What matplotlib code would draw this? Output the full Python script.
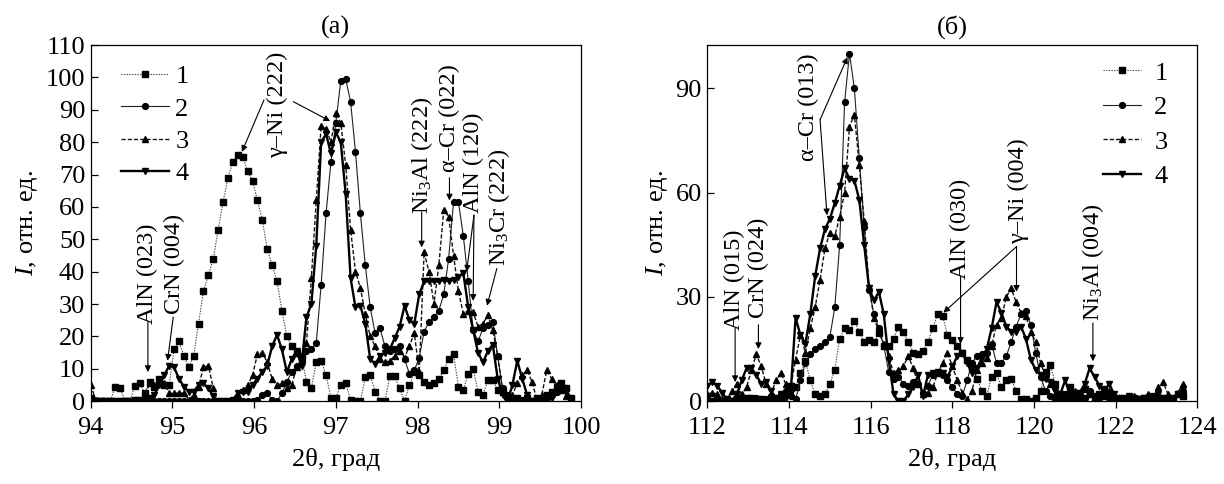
import numpy as np
import matplotlib
matplotlib.use('Agg')
import matplotlib.pyplot as plt

plt.rcParams['font.family'] = ['Liberation Serif', 'DejaVu Serif']
plt.rcParams['mathtext.fontset'] = 'custom'
plt.rcParams['mathtext.rm'] = 'Liberation Serif'
plt.rcParams['mathtext.it'] = 'Liberation Serif:italic'

# Panel (a): 2theta grid, step 0.06 deg
x_a = np.round(94.0 + 0.06 * np.arange(99), 2)

a1 = [1, 0, 0, 0, 0, 4.5, 4, 0, 0, 4.7,
      5.5, 2.5, 6, 4.5, 7, 5, 5, 16, 18.5, 14,
      10.5, 14, 24, 34, 39, 44, 53, 61.5, 69, 74,
      76, 75.5, 71, 68, 62, 56, 47, 42, 37, 28,
      20, 17, 15, 14, 6, 4, 12, 12.5, 8, 1,
      1, 5, 5.5, 0.5, 0, 0, 7.5, 8, 3, 0,
      0, 7.7, 7.7, 4, 0, 5, 9, 8, 6, 5,
      5.5, 7, 9.5, 13, 14.5, 4.5, 3.5, 8.5, 10, 3,
      2, 6.5, 6.5, 3.5, 3, 1.5, 0, 1, 0, 1,
      0, 1, 0.5, 2, 3, 4.5, 5.5, 4, 1]

a2 = [0, 0, 0, 0, 0, 0, 0, 0, 0, 0,
      0, 0, 0, 0, 0, 0, 0, 0, 0, 0,
      0, 0, 0, 0, 0, 0, 0, 0, 0, 0,
      0, 0, 0, 0, 0.5, 2, 2.5, 0.5, 0, 2.5,
      6, 9, 11, 12.5, 15.5, 16, 18, 36, 58, 74,
      86, 99, 99.5, 92.5, 77, 58, 42, 29, 21, 22.5,
      17, 15.5, 16, 17, 13, 8.5, 9.5, 13.5, 21.5, 24.5,
      26, 28, 33, 44, 61.5, 61.5, 51, 37, 22, 18.5,
      22.5, 23.5, 24.5, 14, 4, 2, 0.5, 0, 0.5, 0,
      0, 0, 0, 1, 2, 3, 4.5, 4, 1]

a3 = [5, 0.5, 0, 0, 0, 0, 0, 0, 0, 0,
      0, 1.5, 5.5, 5, 6, 5.5, 2.5, 2.5, 2.5, 2.5,
      0.5, 2, 4.5, 10.5, 11, 4, 0, 0, 0, 0,
      2, 3.5, 5, 8, 14.5, 15, 12, 7, 5, 5.5,
      4, 5, 10.5, 14, 18, 38, 62, 85, 84, 80,
      89, 86, 73, 53, 40, 35, 27, 20, 17, 13,
      12, 12.5, 14, 15.5, 13.5, 17, 21, 9, 46, 40,
      30, 42, 59, 57, 45, 34, 27, 28, 27.5, 23,
      24, 26.5, 22, 14, 3, 0.5, 2, 5.5, 8, 9.5,
      6, 0.5, 2, 9.5, 7, 5, 3.5, 1.5, 0.5]

a4 = [0.5, 0, 0, 0, 0, 0, 0, 0, 0, 0.5,
      0.5, 1, 1, 2, 5, 8, 11, 10.5, 7, 4.5,
      3, 3, 5, 5.5, 4, 1.5, 0, 0, 0, 0.5,
      2.5, 3, 3, 5, 7, 9, 11, 17, 20.5, 16,
      9, 13, 15.5, 11, 26, 30, 48, 80, 82.5, 76.5,
      83, 80, 64, 38, 29, 29.5, 24, 13, 11.5, 14,
      15, 16, 19.5, 23, 29.5, 25, 24, 33, 37, 37,
      37, 37, 37.5, 37, 37.5, 38.5, 39.5, 29, 22, 15,
      12, 15.5, 17.5, 7, 2, 0, 5, 12.5, 7, 2,
      0, 0.5, 0, 0.5, 1, 3, 5, 3, 0.5]

# Panel (b): 2theta grid, step 0.12 deg
x_b = np.round(112.0 + 0.12 * np.arange(98), 2)

b1 = [0, 0, 0, 0, 0, 0, 0.5, 1, 1, 1,
      0.5, 0.5, 0, 0, 0.5, 1, 2, 4.5, 4, 8,
      11.5, 6, 2, 1.5, 2, 5, 9, 18, 21, 20.5,
      23, 20, 17, 17.5, 17, 19.5, 16, 16, 18, 21.5,
      20, 17, 14, 13.5, 14.5, 17, 21, 25, 24.5, 19,
      17.5, 16, 14, 12, 9.5, 6.5, 3, 1.5, 7, 8,
      4, 6, 6.5, 3, 0.5, 0.5, 0, 1, 3, 8.5,
      10.5, 5, 2, 1.5, 4, 2.5, 1, 3.5, 2, 1,
      2, 3.5, 1.5, 0.5, 0, 1, 0.5, 0, 0.5, 1,
      0, 0.5, 1, 0.5, 1, 0.5, 2, 1.5]

b2 = [0, 0, 0, 0, 0, 0, 0, 0.5, 0.5, 1,
      1, 0.5, 0.5, 1.5, 1, 2, 3, 1.5, 0.5, 6,
      11, 13.5, 15, 16, 17, 18.5, 27, 45, 86, 100,
      90, 70, 50, 32, 25, 21, 16, 8.5, 6.5, 7,
      5, 4.5, 5.5, 5, 2.5, 4.5, 7.5, 8, 7.5, 6,
      4, 2, 1.5, 6, 11, 13, 13.5, 14, 16.5, 11,
      11, 13, 17, 21.5, 25, 26, 22, 14, 7, 3,
      1.5, 0.5, 1, 2, 0.5, 1, 2, 1, 3, 1.5,
      1, 2.5, 1, 0.5, 1, 0.5, 0, 1, 0.5, 0,
      1, 0.5, 0, 1, 0.5, 1, 2, 3]

b3 = [2, 2.5, 2, 0.5, 0.5, 3, 5, 2, 4, 9,
      13.5, 10, 5, 2, 6, 8, 5, 4, 12, 19,
      14, 21, 27, 35, 44, 48.5, 47.5, 53, 60, 79,
      82.5, 68, 52, 33, 24, 20, 16.5, 13, 8, 9,
      10, 13, 9.5, 5, 2, 2.5, 4, 8, 11, 14,
      10, 6, 2.5, 0.5, 3, 9, 11, 12.5, 16, 22,
      24, 30, 32.5, 28.5, 25.5, 24.5, 20, 17, 11, 7,
      5, 2, 1, 0.5, 2, 3, 1.5, 4, 3, 1,
      0.5, 1.5, 3, 1, 0.5, 0, 1, 1.5, 0.5, 1,
      2, 1, 4, 5.5, 2, 1, 2.5, 5]

b4 = [4.5, 5.5, 4.5, 2.5, 0.5, 0, 2, 6, 9.5, 9.5,
      7.5, 5, 5.5, 3, 1, 2, 1, 2.5, 24, 19,
      16.5, 25, 36, 44, 49.5, 52.5, 57, 62, 67, 64,
      63.5, 58, 45, 32.5, 29, 31.5, 25, 12, 2, 0,
      0, 2, 4, 7.5, 1.5, 7.5, 8, 8.5, 8, 7,
      10, 13, 14, 11, 8, 9.5, 12.5, 15, 21, 28.5,
      25.5, 21.5, 20, 20, 21.5, 18, 12, 9, 7.5, 6.5,
      5.5, 3, 2, 6, 2, 1, 2.5, 5, 9.5, 7,
      4.5, 3, 5, 2, 1, 0.5, 1.5, 1, 0.5, 1,
      0.5, 1.5, 2, 1, 0.5, 1, 2, 3.5]

labels = ['1', '2', '3', '4']

# line styles of the four samples; markers are black
styles = [
  dict(marker='s', ls=(0, (1.2, 1.2)), lw=0.8, color='#444444', ms=4.0),
  dict(marker='o', ls='-', lw=0.8, color='#222222', ms=4.2),
  dict(marker='^', ls=(0, (3, 1.5)), lw=1.0, color='#111111', ms=4.4),
  dict(marker='v', ls='-', lw=1.7, color='#000000', ms=4.4),
]

fs = 19
fs_ann = 17.5

fig = plt.figure(figsize=(12.24, 4.84), dpi=100)
ax_a = fig.add_axes([0.0741, 0.171, 0.4006, 0.736])
ax_b = fig.add_axes([0.5779, 0.171, 0.4004, 0.736])


def arrow(ax, start, tip):
  ax.annotate('', xy=tip, xytext=start,
              arrowprops=dict(arrowstyle='-|>', lw=0.8, color='k',
                              mutation_scale=9, shrinkA=0, shrinkB=0))


def vtext(ax, x, y, s):
  ax.text(x, y, s, rotation=90, ha='center', va='center', fontsize=fs_ann)


def style_axes(ax, title):
  ax.tick_params(axis='y', direction='in', length=5, labelsize=fs, width=0.9, pad=4)
  ax.tick_params(axis='x', direction='out', length=5, labelsize=fs, width=0.9, pad=6)
  for sp in ax.spines.values():
    sp.set_linewidth(0.9)
  ax.set_xlabel('2θ, град', fontsize=fs, labelpad=7)
  ax.set_ylabel('$I$, отн. ед.', fontsize=fs, labelpad=4)
  ax.set_title(title, fontsize=fs, pad=8)


def draw(ax, xs, series):
  hs = []
  for ys, st, lb in zip(series, styles, labels):
    h, = ax.plot(xs, ys, label=lb, mfc='k', mec='k', **st)
    hs.append(h)
  return hs


# ---- panel (a)
handles = draw(ax_a, x_a, [a1, a2, a3, a4])
ax_a.set_xlim(94, 100)
ax_a.set_ylim(0, 110)
ax_a.set_xticks(np.arange(94, 101, 1))
ax_a.set_yticks(np.arange(0, 111, 10))
style_axes(ax_a, '(а)')
ax_a.legend(handles=handles, loc='upper left', bbox_to_anchor=(0.062, 0.945),
            frameon=False, fontsize=fs, handlelength=1.8, handletextpad=0.25,
            labelspacing=0.34, borderaxespad=0, borderpad=0)

vtext(ax_a, 94.69, 39.5, 'AlN (023)')
arrow(ax_a, (94.70, 24.5), (94.70, 9.0))
vtext(ax_a, 95.03, 42.5, 'CrN (004)')
arrow(ax_a, (95.01, 26), (94.94, 12.5))
vtext(ax_a, 96.29, 91.5, 'γ–Ni (222)')
arrow(ax_a, (96.12, 93), (95.85, 77))
arrow(ax_a, (96.48, 92.5), (96.93, 86.5))
vtext(ax_a, 98.05, 76, 'Ni$_3$Al (222)')
arrow(ax_a, (98.05, 58.5), (98.05, 47.5))
vtext(ax_a, 98.39, 87.5, 'α–Cr (022)')
arrow(ax_a, (98.39, 69), (98.39, 62))
vtext(ax_a, 98.68, 73.5, 'AlN (120)')
arrow(ax_a, (98.69, 57.5), (98.60, 40))
arrow(ax_a, (98.69, 57.5), (98.68, 31))
vtext(ax_a, 99.0, 60, 'Ni$_3$Cr (222)')
arrow(ax_a, (98.97, 41), (98.85, 29.5))

# ---- panel (b)
handles = draw(ax_b, x_b, [b1, b2, b3, b4])
ax_b.set_xlim(112, 124)
ax_b.set_ylim(0, 102.5)
ax_b.set_xticks(np.arange(112, 125, 2))
ax_b.set_yticks([0, 30, 60, 90])
style_axes(ax_b, '(б)')
ax_b.legend(handles=handles, loc='upper left', bbox_to_anchor=(0.807, 0.955),
            frameon=False, fontsize=fs, handlelength=1.45, handletextpad=0.5,
            labelspacing=0.42, borderaxespad=0, borderpad=0)

vtext(ax_b, 112.67, 35, 'AlN (015)')
arrow(ax_b, (112.68, 21), (112.68, 5.5))
vtext(ax_b, 113.25, 38.5, 'CrN (024)')
arrow(ax_b, (113.25, 22), (113.25, 15))
vtext(ax_b, 114.47, 84.5, 'α–Cr (013)')
arrow(ax_b, (114.76, 81), (115.43, 99))
arrow(ax_b, (114.76, 81), (114.93, 53.5))
vtext(ax_b, 118.2, 49.5, 'AlN (030)')
arrow(ax_b, (118.2, 36), (118.2, 16.5))
vtext(ax_b, 119.62, 60.5, 'γ–Ni (004)')
arrow(ax_b, (119.57, 44.5), (119.57, 31.5))
arrow(ax_b, (119.57, 44.5), (117.78, 25.5))
vtext(ax_b, 121.44, 40, 'Ni$_3$Al (004)')
arrow(ax_b, (121.44, 22.5), (121.44, 11.5))

fig.savefig('out.png', dpi=100)
